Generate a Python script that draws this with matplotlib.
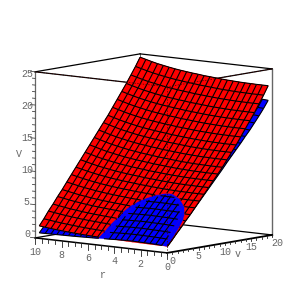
import numpy as np
import matplotlib
matplotlib.use("Agg")
import matplotlib.pyplot as plt
from mpl_toolkits.mplot3d import proj3d
from mpl_toolkits.mplot3d.art3d import Poly3DCollection, Line3DCollection

r_start, r_end, v_start, v_end = 0.3, 10.0, 0.8, 20.0
n_r_cells = 22
n_v_cells = 22

# heights
red_at_low_r = [.8,1.6,2.5,3.3,4.2,5.0,5.9,6.8,7.7,8.6,9.5,10.4,11.3,12.3,13.3,14.3,15.4,16.5,17.6,18.7,19.9,21.1,22.4]
red_rise_by_v = [.9,1.05,1.2,1.33,1.45,1.58,1.7,1.8,1.9,2.0,2.1,2.2,2.3,2.3,2.3,2.28,2.26,2.24,2.22,2.2,2.16,2.13,2.1]
red_shape_by_r = [0,0,0,.01,.015,.03,.05,.07,.1,.135,.17,.2,.25,.29,.34,.39,.45,.52,.6,.68,.78,.89,1.0]
blue_at_low_r = [.8,1.65,2.5,3.35,4.2,5.05,5.9,6.75,7.6,8.45,9.3,10.15,11.0,11.9,12.75,13.6,14.45,15.35,16.2,17.15,18.1,19.1,20.2]
blue_shape_by_r = [0,.06,.11,.14,.16,.18,.2,.19,.17,.14,.1,.07,.03,0,-.02,-.05,-.07,-.09,-.1,-.12,-.13,-.14,-.15]
# range of r, per row of v, where the blue sheet lies above the red one
dome_lo = [.3,.32,.36,.42,.5,.72,1.1,1.8,3.2]
dome_hi = [5.5,5.4,5.3,5.18,5.05,4.85,4.4,3.65,2.2]

r_ticks = [0,2,4,6,8,10]
v_ticks = [0,5,10,15,20]
V_ticks = [0,5,10,15,20,25]

r = np.linspace(r_start, r_end, n_r_cells + 1)
v = np.linspace(v_start, v_end, n_v_cells + 1)
R, W = np.meshgrid(r, v, indexing="ij")
red = np.array(red_at_low_r)[None, :] + np.array(red_shape_by_r)[:, None] * np.array(red_rise_by_v)[None, :]
blue = np.array(blue_at_low_r)[None, :] + np.array(blue_shape_by_r)[:, None]

d = np.ones_like(red)
for j, (lo, hi) in enumerate(zip(dome_lo, dome_hi)):
    d[:, j] = np.maximum(lo - r, r - hi)


def clip(points):
    out = []
    n = len(points)
    for k in range(n):
        a, b = points[k], points[(k + 1) % n]
        if a[3] >= 0:
            out.append(a[:3])
        if (a[3] >= 0) != (b[3] >= 0):
            t = a[3] / (a[3] - b[3])
            out.append(tuple(a[m] + t * (b[m] - a[m]) for m in range(3)))
    return out


def quads(Z):
    return [[(R[i, j], W[i, j], Z[i, j]), (R[i + 1, j], W[i + 1, j], Z[i + 1, j]),
             (R[i + 1, j + 1], W[i + 1, j + 1], Z[i + 1, j + 1]), (R[i, j + 1], W[i, j + 1], Z[i, j + 1])]
            for i in range(n_r_cells) for j in range(n_v_cells)]


red_top = []
for i in range(n_r_cells):
    for j in range(n_v_cells):
        idx = [(i, j), (i + 1, j), (i + 1, j + 1), (i, j + 1)]
        c = clip([(R[a], W[a], red[a], d[a]) for a in idx])
        if len(c) >= 3:
            red_top.append(c)


def part(pa, pb):
    """piece of a grid segment where the last value is not negative"""
    if pa[3] >= 0 and pb[3] >= 0:
        return [pa[:3], pb[:3]]
    if pa[3] >= 0 or pb[3] >= 0:
        t = pa[3] / (pa[3] - pb[3])
        x = tuple(pa[m] + t * (pb[m] - pa[m]) for m in range(3))
        return [pa[:3] if pa[3] >= 0 else pb[:3], x]
    return None


def mesh(Z, sign, offset):
    out = []
    pairs = []
    for i in range(n_r_cells + 1):
        for j in range(n_v_cells + 1):
            if i < n_r_cells:
                pairs.append(((i, j), (i + 1, j)))
            if j < n_v_cells:
                pairs.append(((i, j), (i, j + 1)))
    for a, b in pairs:
        s = part((R[a], W[a], Z[a], sign * d[a] + offset), (R[b], W[b], Z[b], sign * d[b] + offset))
        if s:
            out.append(s)
    return out


red_lines = mesh(red, 1, 0)
blue_rim = 0.4
blue_lines = mesh(blue, -1, -blue_rim) + mesh(blue, 1, 0)

fig = plt.figure(figsize=(3.07, 3.07), dpi=100)
px = 1 / 307
ax = fig.add_axes([8.5 * px, 8.5 * px, 282.6 * px, 282.6 * px], projection="3d", proj_type="ortho")
ax.computed_zorder = False
ax.set_box_aspect((170.3, 166, 167.6))
ax.view_init(elev=8.02, azim=-50.8)
ax.set_axis_off()
ax.patch.set_alpha(0)

ax.add_collection3d(Poly3DCollection(quads(red), facecolor="#ff0000", edgecolor="#ff0000", linewidth=0.2, zorder=2))
ax.add_collection3d(Poly3DCollection(quads(blue), facecolor="#0000ff", edgecolor="#0000ff", linewidth=0.2, zorder=3))
ax.add_collection3d(Line3DCollection(blue_lines, colors="black", linewidths=0.8, zorder=3.5))
ax.add_collection3d(Poly3DCollection(red_top, facecolor="#ff0000", edgecolor="#ff0000", linewidth=0.3, zorder=4))
ax.add_collection3d(Line3DCollection(red_lines, colors="black", linewidths=0.8, zorder=5))


def line(a, b, color="black", lw=0.9, z=1, **kw):
    ax.plot([a[0], b[0]], [a[1], b[1]], [a[2], b[2]], color=color, lw=lw, zorder=z, **kw)


rm, vm, Vm = 10, 20, 25
# back of the frame
line((rm, vm, 0), (0, vm, 0))
line((rm, vm, 0), (rm, 0, 0))
line((rm, vm, 0), (rm, vm, Vm), color="#555555", lw=0.6)
line((rm, vm, Vm), (rm, 0, Vm))
line((rm, vm, Vm), (0, vm, Vm))
line((0, vm, 0), (0, vm, Vm), color="#666666", lw=1.0)
line((rm, 0, 0), (rm, 0, Vm), color="#666666", lw=0.9)
# frame lines in front of the sheets, seen as broken dark lines
line((rm, 0, Vm), (0, 0, Vm), z=1)
line((0, vm, Vm), (0, 0, Vm), z=1)
line((rm, 0, Vm), (0, 0, Vm), z=6, lw=0.5, color="#400000", ls=(0, (2, 2)))
line((0, vm, Vm), (0, 0, Vm), z=6, lw=0.5, color="#400000", ls=(0, (2, 2)))
line((0, 0, 0), (0, 0, Vm), z=6, lw=0.5, color="#400000", ls=(0, (2, 2)))
# axes in front
line((rm, 0, 0), (0, 0, 0), z=7, lw=1.1)
line((0, 0, 0), (0, vm, 0), z=7, lw=1.3)

for t in np.arange(0, 25.01, 1):
    line((rm, 0, t), (rm + (0.35 if t % 5 == 0 else 0.2), 0, t), color="#444444", lw=0.6, z=7)
for t in np.arange(0, 10.01, 0.5):
    line((t, 0, 0), (t, 0, -0.9 if t % 2 == 0 else -0.6), lw=0.6, color="#222222", z=7)
for t in np.arange(0, 20.01, 1):
    line((0, t, 0), (0, t, -0.3), lw=0.6, color="#222222", z=7)

ax.set_xlim(10, 0)
ax.set_ylim(0, 20)
ax.set_zlim(0, 25)
ax.set_xticks([])
ax.set_yticks([])
ax.set_zticks([])

M = ax.get_proj()
font = dict(family="Liberation Mono", size=7.2, color="#666666", ha="center", va="center", zorder=8)


def label(a, b, c, s):
    x, y, _ = proj3d.proj_transform(a, b, c, M)
    ax.text2D(x, y, s, transform=ax.transData, **font)


for t in V_ticks:
    label(10.62, 0, 0.45 + 0.964 * t, str(t))
for t in r_ticks:
    label(t, 0, -2.1, str(t))
for t in v_ticks:
    label(-0.4, t, -1.1, str(t))
label(11.2, 0, 12.3, "V")
label(4.9, 0, -4.5, "r")
label(-1.4, 10, -1.2, "v")

fig.savefig("out.png", dpi=100)
